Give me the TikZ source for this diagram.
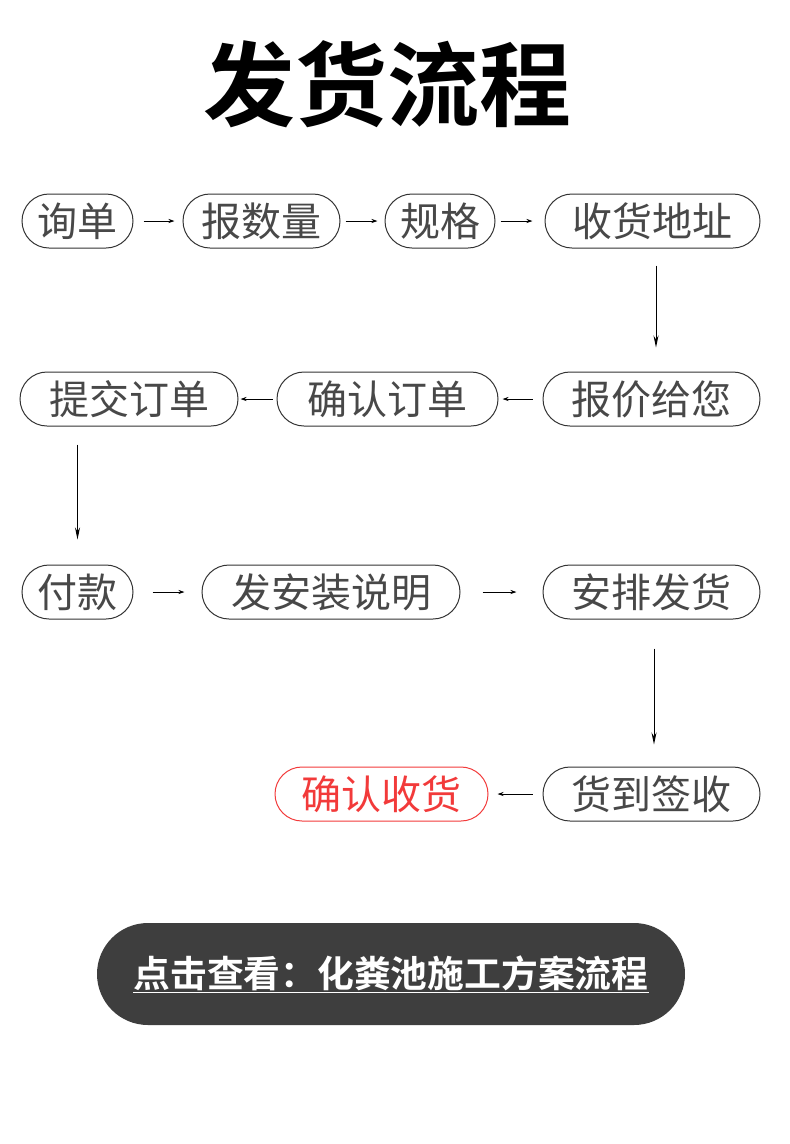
\documentclass[tikz,border=0pt]{standalone}
\usepackage{fontspec}
\setmainfont{Noto Sans CJK SC}[BoldFont={Noto Sans CJK SC Bold}]
\usepackage{tikz}
\usetikzlibrary{arrows.meta,positioning}
\definecolor{boxtext}{HTML}{484848}
\definecolor{boxline}{HTML}{333333}
\definecolor{okred}{HTML}{F23A3A}
\definecolor{btnfill}{HTML}{3E3E3E}
\tikzset{
    %Define standard arrow tip
    >={Stealth[length=6pt,width=4pt]},
    %Define style for boxes
    flowbox/.style={
           rectangle,
           rounded corners=27pt,
           draw=boxline, line width=1pt,
           minimum height=54pt,
           inner sep=0pt,
           font=\fontsize{40}{44}\selectfont,
           text=boxtext,
           text centered},
    donebox/.style={
           flowbox,
           draw=okred,
           text=okred},
    linkbox/.style={
           rectangle,
           rounded corners=51pt,
           fill=btnfill,
           minimum width=588pt,
           minimum height=102pt,
           text=white,
           font=\bfseries\fontsize{36.8}{40}\selectfont},
    % Define arrow style
    pil/.style={
           ->,
           line width=0.9pt},
    down/.style={
           -{Stealth[length=12pt,width=5pt]},
           line width=1pt}
}
\begin{document}
\begin{tikzpicture}[x=1pt,y=-1pt]
\useasboundingbox (0,0) rectangle (790,1144);
\node[font=\bfseries\fontsize{92}{96}\selectfont] (title) at (387,84) {发货流程};
% first row
\node[flowbox, minimum width=111pt](inquiry) at (77.5,221){询单};
\node[flowbox, minimum width=157pt](qty) at (261.5,221){报数量};
\node[flowbox, minimum width=110pt](spec) at (440,221){规格};
\node[flowbox, minimum width=215pt](addr) at (652.5,221){收货地址};
% second row
\node[flowbox, minimum width=217pt](quote) at (651.5,399){报价给您};
\node[flowbox, minimum width=221pt](confirm) at (387.5,399){确认订单};
\node[flowbox, minimum width=218pt](submit) at (129,399){提交订单};
% third row
\node[flowbox, minimum width=111pt](pay) at (77.5,592){付款};
\node[flowbox, minimum width=258pt](guide) at (331,592){发安装说明};
\node[flowbox, minimum width=217pt](ship) at (651.5,592){安排发货};
% fourth row
\node[flowbox, minimum width=217pt](sign) at (651.5,794){货到签收};
\node[donebox, minimum width=213pt](receive) at (381.5,794){确认收货};
\path[pil]
	(inquiry) edge[shorten <=10pt, shorten >=8pt] (qty)
	(qty) edge[shorten <=5pt, shorten >=7pt] (spec)
	(spec) edge[shorten <=5pt, shorten >=12pt] (addr)
	(quote) edge[shorten <=10pt, shorten >=4pt] (confirm)
	(confirm) edge[shorten <=4pt, shorten >=2pt] (submit)
	(pay) edge[shorten <=19pt, shorten >=17pt] (guide)
	(guide) edge[shorten <=22pt, shorten >=26pt] (ship)
	(sign) edge[shorten <=10pt, shorten >=9pt] (receive);
\draw[down, shorten <=17pt, shorten >=24pt] ([xshift=3.5pt]addr.south) -- ([xshift=4.5pt]quote.north);
\draw[down, shorten <=18pt, shorten >=25pt] (submit.south -| pay.north) -- (pay.north);
\draw[down, shorten <=29pt, shorten >=22pt] ([xshift=2.5pt]ship.south) -- ([xshift=2.5pt]sign.north);
\node[linkbox](link) at (391,974){\underline{点击查看：化粪池施工方案流程}};
\end{tikzpicture}
\end{document}
